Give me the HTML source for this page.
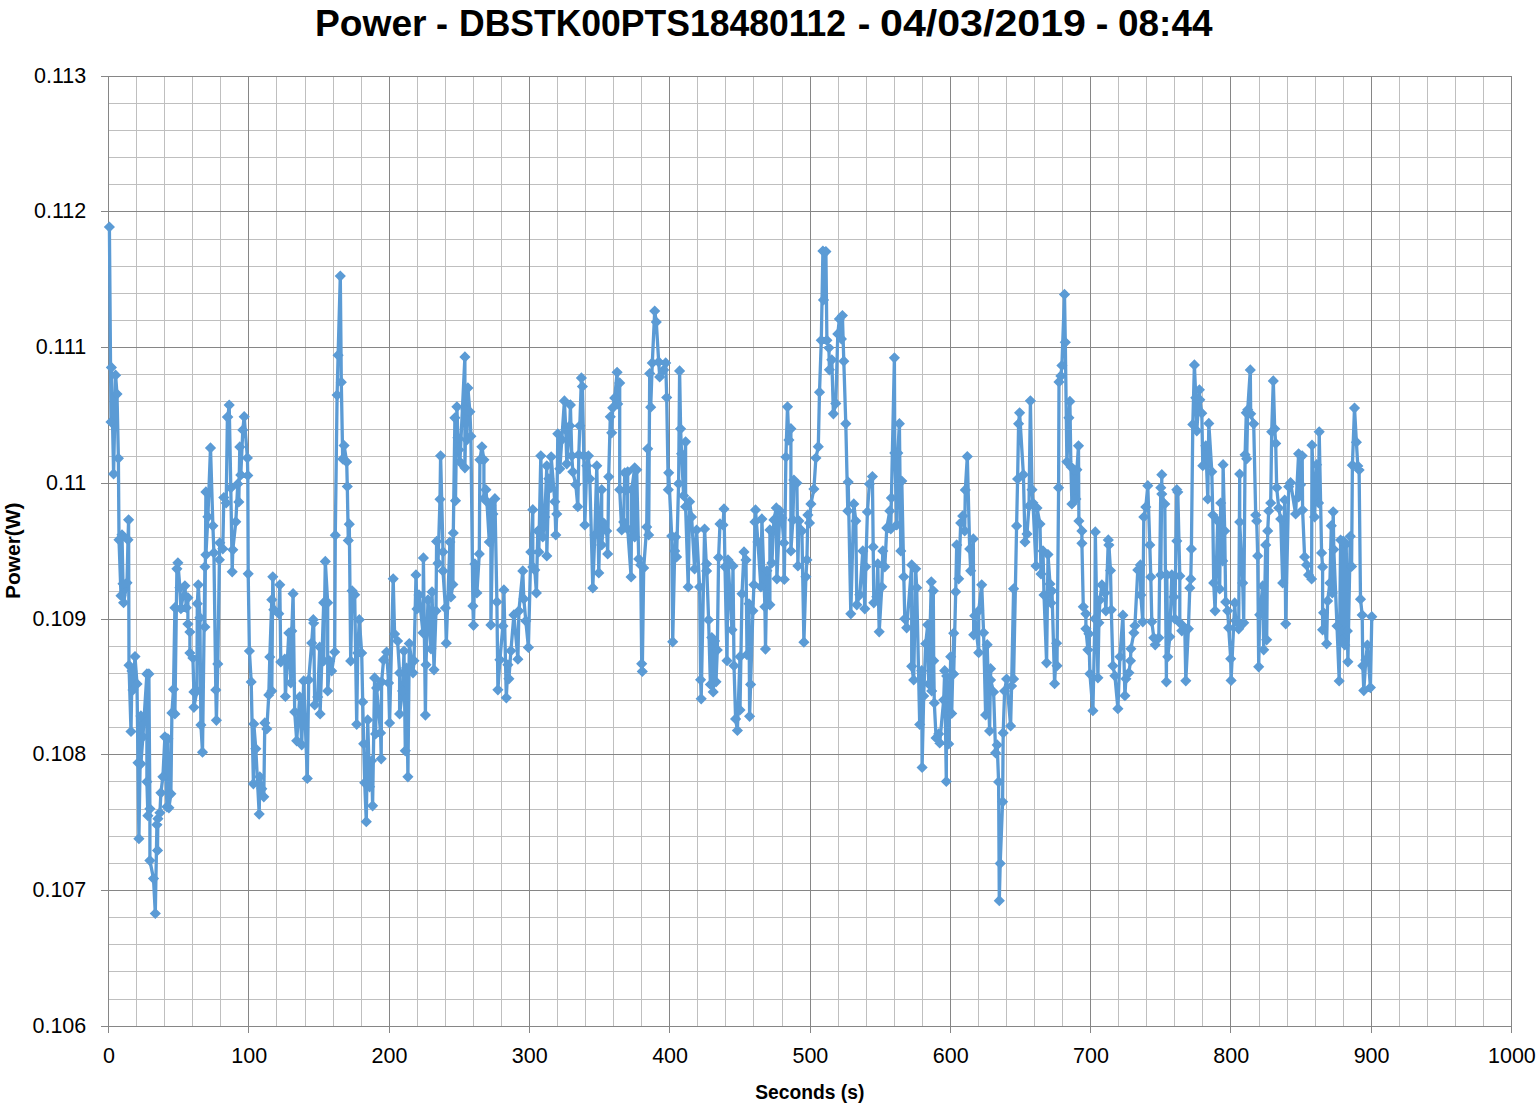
<!DOCTYPE html>
<html lang="en"><head><meta charset="utf-8"><title>Power - DBSTK00PTS18480112</title>
<style>
html,body{margin:0;padding:0;background:#fff;}
body{width:1537px;height:1107px;overflow:hidden;}
svg{display:block;}
text{font-family:"Liberation Sans",sans-serif;fill:#000;}
.t{font-weight:bold;}
</style></head><body>
<svg width="1537" height="1107" viewBox="0 0 1537 1107">
<rect width="1537" height="1107" fill="#fff"/>
<path d="M136.5 75.7V1025.7M164.5 75.7V1025.7M192.5 75.7V1025.7M220.5 75.7V1025.7M276.5 75.7V1025.7M305.5 75.7V1025.7M333.5 75.7V1025.7M361.5 75.7V1025.7M417.5 75.7V1025.7M445.5 75.7V1025.7M473.5 75.7V1025.7M501.5 75.7V1025.7M557.5 75.7V1025.7M585.5 75.7V1025.7M613.5 75.7V1025.7M641.5 75.7V1025.7M697.5 75.7V1025.7M725.5 75.7V1025.7M753.5 75.7V1025.7M782.5 75.7V1025.7M838.5 75.7V1025.7M866.5 75.7V1025.7M894.5 75.7V1025.7M922.5 75.7V1025.7M978.5 75.7V1025.7M1006.5 75.7V1025.7M1034.5 75.7V1025.7M1062.5 75.7V1025.7M1118.5 75.7V1025.7M1146.5 75.7V1025.7M1174.5 75.7V1025.7M1202.5 75.7V1025.7M1259.5 75.7V1025.7M1287.5 75.7V1025.7M1315.5 75.7V1025.7M1343.5 75.7V1025.7M1399.5 75.7V1025.7M1427.5 75.7V1025.7M1455.5 75.7V1025.7M1483.5 75.7V1025.7M108.1 103.5H1511.1M108.1 130.5H1511.1M108.1 157.5H1511.1M108.1 184.5H1511.1M108.1 239.5H1511.1M108.1 266.5H1511.1M108.1 293.5H1511.1M108.1 320.5H1511.1M108.1 374.5H1511.1M108.1 401.5H1511.1M108.1 429.5H1511.1M108.1 456.5H1511.1M108.1 510.5H1511.1M108.1 537.5H1511.1M108.1 564.5H1511.1M108.1 591.5H1511.1M108.1 646.5H1511.1M108.1 673.5H1511.1M108.1 700.5H1511.1M108.1 727.5H1511.1M108.1 781.5H1511.1M108.1 809.5H1511.1M108.1 836.5H1511.1M108.1 863.5H1511.1M108.1 917.5H1511.1M108.1 944.5H1511.1M108.1 971.5H1511.1M108.1 999.5H1511.1" stroke="#bfbfbf" stroke-width="1" fill="none" shape-rendering="crispEdges"/>
<path d="M108.5 75.7V1032.7M248.5 75.7V1032.7M389.5 75.7V1032.7M529.5 75.7V1032.7M669.5 75.7V1032.7M810.5 75.7V1032.7M950.5 75.7V1032.7M1090.5 75.7V1032.7M1230.5 75.7V1032.7M1371.5 75.7V1032.7M1511.5 75.7V1032.7M101.1 76.5H1511.1M101.1 211.5H1511.1M101.1 347.5H1511.1M101.1 483.5H1511.1M101.1 619.5H1511.1M101.1 754.5H1511.1M101.1 890.5H1511.1M101.1 1026.5H1511.1" stroke="#868686" stroke-width="1" fill="none" shape-rendering="crispEdges"/>
<text x="86.3" y="82.6" font-size="21.5" text-anchor="end">0.113</text>
<text x="86.3" y="218.3" font-size="21.5" text-anchor="end">0.112</text>
<text x="86.3" y="354.0" font-size="21.5" text-anchor="end">0.111</text>
<text x="86.3" y="489.7" font-size="21.5" text-anchor="end">0.11</text>
<text x="86.3" y="625.5" font-size="21.5" text-anchor="end">0.109</text>
<text x="86.3" y="761.2" font-size="21.5" text-anchor="end">0.108</text>
<text x="86.3" y="896.9" font-size="21.5" text-anchor="end">0.107</text>
<text x="86.3" y="1032.6" font-size="21.5" text-anchor="end">0.106</text>
<text x="108.9" y="1063.3" font-size="21.5" text-anchor="middle">0</text>
<text x="249.2" y="1063.3" font-size="21.5" text-anchor="middle">100</text>
<text x="389.5" y="1063.3" font-size="21.5" text-anchor="middle">200</text>
<text x="529.8" y="1063.3" font-size="21.5" text-anchor="middle">300</text>
<text x="670.1" y="1063.3" font-size="21.5" text-anchor="middle">400</text>
<text x="810.4" y="1063.3" font-size="21.5" text-anchor="middle">500</text>
<text x="950.7" y="1063.3" font-size="21.5" text-anchor="middle">600</text>
<text x="1091.0" y="1063.3" font-size="21.5" text-anchor="middle">700</text>
<text x="1231.3" y="1063.3" font-size="21.5" text-anchor="middle">800</text>
<text x="1371.6" y="1063.3" font-size="21.5" text-anchor="middle">900</text>
<text x="1511.9" y="1063.3" font-size="21.5" text-anchor="middle">1000</text>
<text class="t" x="315.00" y="36.2" font-size="37" textLength="111.60" lengthAdjust="spacingAndGlyphs">Power</text>
<text class="t" x="436.00" y="36.2" font-size="37" textLength="12.00" lengthAdjust="spacingAndGlyphs">-</text>
<text class="t" x="459.00" y="36.2" font-size="37" textLength="387.00" lengthAdjust="spacingAndGlyphs">DBSTK00PTS18480112</text>
<text class="t" x="857.80" y="36.2" font-size="37" textLength="12.60" lengthAdjust="spacingAndGlyphs">-</text>
<text class="t" x="880.00" y="36.2" font-size="37" textLength="206.00" lengthAdjust="spacingAndGlyphs">04/03/2019</text>
<text class="t" x="1095.80" y="36.2" font-size="37" textLength="12.60" lengthAdjust="spacingAndGlyphs">-</text>
<text class="t" x="1118.00" y="36.2" font-size="37" textLength="94.50" lengthAdjust="spacingAndGlyphs">08:44</text>
<text class="t" x="809.8" y="1098.6" font-size="20" text-anchor="middle" textLength="109" lengthAdjust="spacingAndGlyphs">Seconds (s)</text>
<text class="t" transform="translate(20.2,550.7) rotate(-90)" font-size="20.5" text-anchor="middle" textLength="96.5" lengthAdjust="spacingAndGlyphs">Power(W)</text>
<path d="M109.4 227.0 L111.0 422.0 L111.4 367.4 L113.6 473.9 L115.6 375.2 L117.0 394.1 L118.4 458.3 L119.0 539.8 L121.0 595.7 L122.0 534.8 L123.0 583.8 L123.6 602.7 L127.0 582.8 L128.0 539.8 L128.6 519.8 L129.0 665.3 L131.0 731.5 L132.0 670.9 L133.0 689.9 L135.0 656.6 L137.0 683.9 L138.0 762.8 L138.9 838.7 L140.9 715.9 L140.9 763.8 L142.9 736.8 L146.9 673.9 L146.9 781.8 L147.9 815.7 L148.9 673.9 L149.9 808.8 L149.9 860.6 L153.5 878.6 L155.3 913.5 L156.9 824.7 L157.5 850.4 L157.9 818.7 L159.9 812.8 L160.9 792.8 L162.9 776.8 L164.9 736.8 L166.9 806.8 L167.9 738.8 L168.9 807.8 L170.9 793.8 L171.9 712.9 L173.5 689.3 L174.9 607.7 L174.9 713.9 L176.9 568.8 L177.9 562.8 L179.9 587.8 L180.9 608.7 L184.9 585.8 L186.3 607.7 L187.9 597.7 L187.9 624.0 L189.9 632.0 L189.9 653.0 L192.9 658.0 L193.9 691.9 L193.9 707.3 L196.9 690.9 L197.3 603.7 L198.3 584.8 L199.9 617.7 L200.9 724.9 L202.5 752.2 L204.9 566.8 L204.9 627.0 L205.9 491.9 L205.9 554.8 L207.9 516.8 L210.5 447.9 L212.9 525.8 L213.9 552.8 L215.8 689.9 L216.4 720.3 L217.8 663.9 L219.4 559.8 L219.8 542.8 L222.8 548.8 L223.8 497.5 L226.2 502.9 L227.4 417.1 L227.8 417.0 L229.2 405.1 L230.8 487.9 L232.2 571.8 L232.8 549.8 L235.8 521.8 L237.8 483.9 L238.8 501.9 L239.8 446.9 L240.8 474.9 L242.8 430.0 L244.2 416.7 L247.4 457.9 L247.8 475.5 L248.2 573.8 L249.4 651.0 L251.2 681.9 L253.4 783.8 L253.8 723.9 L255.8 748.8 L259.2 814.1 L259.8 776.8 L261.8 788.8 L263.8 796.8 L264.8 722.9 L266.8 728.9 L268.8 694.9 L269.8 657.0 L271.8 599.7 L271.8 690.9 L272.8 576.8 L273.8 609.7 L278.8 613.7 L279.8 584.8 L280.8 661.9 L284.8 659.0 L285.4 696.5 L288.8 633.0 L290.8 682.9 L291.8 631.0 L293.1 593.7 L294.7 711.9 L296.7 740.8 L299.7 696.9 L301.7 744.8 L303.7 680.9 L307.3 778.4 L308.7 679.9 L311.7 643.0 L313.3 619.7 L313.7 623.0 L314.7 704.9 L317.7 696.9 L319.7 647.0 L320.1 713.9 L323.7 602.7 L323.7 660.9 L325.3 561.4 L327.7 602.7 L327.7 690.9 L329.7 660.9 L331.7 670.9 L334.7 652.0 L335.3 535.2 L337.1 395.1 L338.1 355.2 L340.3 276.1 L341.3 382.2 L342.7 458.9 L344.1 445.5 L346.7 461.9 L347.3 486.5 L348.3 540.4 L349.3 524.2 L350.7 660.9 L352.1 590.8 L354.7 594.7 L356.7 724.3 L357.7 653.0 L359.3 619.7 L361.7 653.0 L362.7 701.9 L363.7 743.8 L364.7 782.8 L366.3 821.7 L367.7 719.9 L369.6 786.8 L371.6 760.8 L372.6 805.8 L374.6 677.9 L375.6 733.9 L376.6 687.9 L380.6 732.9 L381.2 758.8 L381.6 681.9 L383.6 659.9 L386.6 652.0 L388.6 682.9 L389.6 722.9 L393.2 578.8 L394.6 634.0 L397.6 641.0 L399.6 672.9 L399.6 713.9 L402.6 690.9 L404.0 651.0 L405.3 750.8 L406.6 668.0 L407.9 776.8 L409.3 643.5 L413.0 672.8 L414.0 660.8 L416.0 574.9 L417.0 608.9 L419.0 594.9 L423.0 632.8 L423.4 557.9 L425.4 715.1 L426.0 664.8 L428.0 599.9 L431.0 648.8 L432.0 591.9 L434.0 669.8 L436.0 610.9 L436.6 541.4 L438.0 563.3 L440.0 499.3 L440.6 455.8 L443.0 551.9 L443.0 570.9 L445.4 607.9 L446.3 643.2 L449.9 542.0 L450.9 596.9 L452.9 584.5 L453.3 533.0 L454.9 417.8 L455.5 500.7 L456.9 406.8 L457.9 437.8 L458.9 449.8 L459.9 461.8 L464.9 356.9 L464.9 467.8 L465.9 409.8 L466.9 439.8 L467.9 387.9 L469.9 411.8 L470.9 436.2 L472.9 605.9 L473.5 625.3 L474.9 563.9 L476.9 592.9 L479.3 553.9 L479.9 459.8 L481.9 446.8 L483.9 459.8 L483.9 498.7 L485.9 489.7 L486.9 501.7 L489.3 542.0 L490.9 505.7 L490.9 624.9 L492.9 514.0 L494.9 498.7 L496.9 601.9 L497.9 689.8 L499.9 659.8 L502.9 625.9 L503.9 589.9 L506.3 697.8 L507.9 664.8 L508.9 678.8 L510.9 650.8 L513.9 614.9 L517.9 659.2 L518.9 610.9 L522.8 570.9 L523.8 598.9 L525.8 620.9 L528.4 647.4 L530.8 551.9 L532.8 509.7 L532.8 566.9 L534.8 569.9 L536.4 592.9 L537.8 531.0 L538.8 551.9 L540.8 455.8 L542.8 537.0 L544.8 517.0 L546.8 465.8 L546.8 555.9 L548.8 478.8 L550.8 487.7 L551.2 456.8 L554.8 501.7 L555.8 535.0 L556.8 514.0 L557.8 433.8 L559.8 468.8 L561.8 439.8 L564.4 400.9 L565.8 429.8 L566.8 463.8 L569.8 425.8 L570.4 404.9 L571.8 455.8 L572.8 471.8 L575.8 484.7 L577.8 506.7 L578.8 454.8 L579.8 425.8 L581.4 377.9 L582.4 386.5 L583.8 455.8 L584.8 525.0 L586.8 465.8 L588.4 455.8 L589.8 478.8 L592.8 587.9 L594.8 535.0 L596.8 465.8 L598.8 572.9 L599.7 531.0 L601.7 489.7 L601.7 545.0 L603.7 523.0 L606.7 531.0 L607.7 553.9 L608.7 476.8 L610.3 416.8 L611.7 432.8 L612.7 407.8 L614.7 397.9 L617.1 372.3 L617.7 403.9 L619.7 382.9 L619.7 489.7 L621.7 530.0 L623.7 522.0 L624.7 472.8 L625.7 489.7 L627.7 471.8 L627.7 529.0 L631.1 576.9 L631.7 489.7 L634.7 467.8 L634.7 537.0 L636.7 469.8 L638.7 558.9 L640.7 564.9 L641.7 663.8 L642.3 671.4 L643.7 567.9 L646.7 527.0 L647.7 448.8 L648.7 535.0 L649.7 373.5 L650.7 407.2 L652.3 362.9 L654.7 311.0 L656.3 322.0 L658.7 361.9 L659.7 376.9 L663.7 369.9 L665.7 362.9 L666.7 397.5 L668.3 489.7 L668.7 472.8 L671.7 536.0 L672.7 641.8 L674.7 550.9 L675.6 537.0 L676.6 556.9 L678.6 483.7 L679.6 370.9 L680.6 428.8 L681.6 453.8 L683.6 495.7 L685.6 441.8 L685.6 506.7 L688.2 586.9 L689.6 501.7 L691.6 517.0 L694.6 568.9 L696.6 530.0 L699.6 586.9 L700.6 679.8 L701.2 698.8 L704.6 529.0 L706.6 570.9 L706.6 563.9 L708.6 619.9 L710.4 684.5 L711.8 637.5 L713.2 691.9 L714.6 641.0 L716.0 681.8 L717.3 650.0 L718.6 557.5 L720.0 523.9 L723.0 524.9 L724.0 508.9 L725.0 566.8 L727.0 660.7 L728.0 559.9 L732.0 629.8 L733.0 565.9 L734.0 665.7 L735.6 718.9 L737.4 730.5 L740.0 656.7 L740.0 710.0 L742.0 593.8 L744.0 551.9 L746.0 559.9 L747.0 654.7 L749.0 603.8 L749.6 716.3 L750.6 684.4 L752.9 610.8 L753.9 584.8 L754.9 521.9 L755.5 509.9 L757.9 541.9 L760.9 586.8 L761.9 518.9 L764.9 606.8 L765.5 649.1 L766.9 570.8 L769.9 604.8 L769.9 529.9 L771.9 562.9 L773.9 519.9 L776.3 507.9 L776.9 578.8 L779.9 510.9 L781.9 517.9 L783.9 542.9 L784.3 579.4 L785.9 457.0 L787.5 406.8 L788.9 440.1 L790.9 428.7 L790.9 550.9 L792.9 519.9 L793.9 480.0 L796.9 483.0 L797.9 565.9 L798.9 520.9 L801.9 530.9 L803.9 642.2 L805.9 576.8 L806.9 559.9 L807.9 514.9 L809.5 522.9 L810.9 503.9 L813.9 489.0 L815.9 458.0 L818.3 446.7 L819.5 392.2 L821.3 340.3 L822.9 251.0 L823.5 299.9 L825.9 251.6 L826.9 340.3 L828.9 347.8 L829.4 369.8 L831.8 359.8 L833.4 413.8 L835.8 403.4 L837.8 333.9 L839.4 318.9 L841.4 338.9 L842.4 315.5 L843.8 361.2 L845.8 423.7 L847.8 510.9 L848.2 482.0 L850.8 613.8 L853.8 503.9 L855.8 520.9 L856.8 604.8 L859.8 594.8 L862.8 550.9 L864.8 608.8 L865.8 566.8 L867.4 511.9 L869.4 484.0 L872.4 476.6 L873.2 546.9 L873.8 602.8 L876.8 596.8 L877.8 563.9 L879.2 631.8 L881.8 586.8 L882.8 550.9 L884.8 566.8 L886.8 527.9 L889.8 510.9 L890.8 528.9 L891.4 497.9 L894.4 357.8 L894.8 453.0 L896.8 524.9 L897.8 453.0 L899.4 423.7 L900.8 550.9 L901.8 481.0 L903.8 576.8 L904.8 618.8 L906.7 627.8 L911.7 564.9 L911.7 666.3 L913.7 680.0 L915.7 568.8 L916.7 587.8 L919.7 724.5 L921.7 670.7 L922.1 767.5 L923.7 696.0 L925.7 643.7 L927.7 624.8 L928.7 684.0 L931.3 581.8 L931.7 691.0 L933.3 590.8 L933.7 660.7 L934.3 703.0 L936.1 737.9 L938.7 733.9 L939.7 742.9 L943.7 700.0 L944.7 670.7 L946.3 781.5 L946.7 676.0 L948.7 743.9 L950.7 656.7 L951.7 713.5 L953.7 633.2 L953.7 674.0 L955.7 591.8 L956.7 544.9 L958.7 578.8 L960.7 522.9 L962.7 515.9 L964.7 530.9 L965.3 489.9 L967.3 456.6 L969.7 548.9 L970.7 570.8 L973.3 538.9 L973.7 634.8 L974.7 615.8 L978.7 652.7 L978.7 610.8 L981.7 584.8 L983.6 632.8 L985.6 714.9 L987.2 644.7 L989.6 730.9 L990.6 668.7 L990.6 680.0 L993.6 692.0 L995.6 752.9 L997.2 744.9 L998.6 781.9 L999.3 900.7 L1000.2 863.4 L1002.6 801.8 L1003.2 732.9 L1004.6 691.0 L1006.6 679.0 L1010.6 725.9 L1011.6 686.0 L1013.6 588.8 L1013.6 679.0 L1016.6 525.9 L1017.6 479.0 L1018.6 423.7 L1019.6 412.8 L1023.4 474.7 L1025.0 541.9 L1027.0 533.9 L1029.0 506.0 L1030.4 400.8 L1032.0 489.7 L1033.0 503.0 L1036.0 565.9 L1037.0 508.0 L1040.0 524.0 L1041.0 573.9 L1043.0 550.9 L1044.0 594.9 L1046.6 662.8 L1048.0 554.5 L1050.0 583.9 L1051.0 602.9 L1052.0 590.9 L1054.6 683.7 L1056.6 643.2 L1057.0 665.8 L1058.6 487.7 L1059.0 381.9 L1060.9 375.9 L1061.9 365.5 L1064.5 294.4 L1065.3 342.3 L1066.9 461.8 L1068.9 417.8 L1069.9 401.4 L1070.9 466.7 L1071.9 504.0 L1073.9 469.7 L1075.9 499.0 L1076.9 469.7 L1078.5 445.8 L1078.9 521.0 L1081.9 530.9 L1081.9 543.3 L1083.3 606.8 L1085.9 613.8 L1085.9 628.8 L1087.9 649.8 L1088.9 633.8 L1089.9 673.8 L1092.9 710.7 L1094.9 618.8 L1095.3 531.9 L1097.9 677.8 L1098.9 622.8 L1099.9 599.9 L1101.9 584.9 L1104.9 592.9 L1105.9 610.8 L1108.3 539.9 L1108.9 544.9 L1110.5 570.5 L1111.3 609.8 L1112.9 665.8 L1114.9 675.8 L1117.9 708.7 L1119.9 656.8 L1122.9 615.2 L1124.9 695.7 L1125.9 678.8 L1128.9 672.8 L1130.5 660.8 L1130.9 648.8 L1133.9 632.8 L1134.9 625.8 L1137.8 569.9 L1140.4 564.9 L1140.8 594.9 L1142.8 621.8 L1143.8 517.0 L1145.8 507.0 L1147.8 485.7 L1149.8 544.9 L1150.8 576.9 L1151.8 621.8 L1153.8 637.8 L1155.2 644.8 L1158.8 637.8 L1160.8 487.7 L1160.8 574.9 L1161.8 474.7 L1161.8 494.0 L1164.8 504.0 L1166.4 681.8 L1166.8 574.9 L1167.8 656.8 L1169.8 636.8 L1171.8 574.9 L1173.8 596.9 L1174.8 618.8 L1176.8 489.7 L1176.8 540.9 L1177.8 492.0 L1179.8 575.9 L1179.8 622.8 L1181.8 630.8 L1184.8 627.8 L1185.8 680.8 L1188.4 628.8 L1189.8 587.9 L1190.8 578.9 L1191.4 548.9 L1192.8 424.4 L1194.4 364.9 L1195.8 397.8 L1196.8 430.8 L1199.4 389.8 L1199.8 399.8 L1201.8 413.2 L1202.8 465.7 L1205.8 445.8 L1207.8 499.0 L1208.8 423.4 L1211.8 471.7 L1212.8 515.0 L1213.7 582.9 L1215.1 610.8 L1217.7 521.0 L1219.7 588.9 L1220.7 503.0 L1222.7 560.9 L1223.1 464.7 L1224.7 530.9 L1225.7 601.9 L1227.7 610.8 L1228.7 627.8 L1230.7 658.8 L1231.1 680.4 L1234.7 602.9 L1235.7 620.8 L1238.7 628.8 L1239.7 474.1 L1239.7 522.0 L1242.7 582.9 L1243.7 622.8 L1245.1 454.8 L1246.3 412.8 L1246.7 458.8 L1247.7 409.8 L1250.3 369.9 L1250.7 413.8 L1253.7 423.8 L1255.7 515.0 L1256.7 521.0 L1257.7 555.9 L1258.7 666.8 L1259.7 614.8 L1262.7 585.9 L1263.7 649.8 L1265.7 544.9 L1266.7 639.8 L1267.7 530.9 L1268.7 511.0 L1270.7 503.0 L1271.7 431.8 L1273.3 380.9 L1274.7 428.8 L1275.7 443.4 L1276.7 487.7 L1278.7 508.0 L1280.7 519.0 L1282.7 582.9 L1284.7 500.0 L1285.7 623.8 L1288.7 486.7 L1290.6 482.7 L1295.6 514.0 L1298.6 453.8 L1298.6 497.0 L1300.6 484.7 L1302.2 455.8 L1302.6 510.0 L1304.6 556.9 L1306.6 564.9 L1308.6 574.9 L1311.6 578.9 L1312.0 445.2 L1314.6 517.0 L1316.6 464.7 L1318.6 503.0 L1319.2 431.8 L1321.6 552.9 L1322.6 566.9 L1322.6 629.8 L1323.6 612.8 L1326.6 643.8 L1327.6 600.9 L1329.9 583.0 L1331.3 525.7 L1332.3 593.0 L1333.2 511.8 L1333.8 549.5 L1337.0 626.0 L1339.2 681.0 L1340.6 540.0 L1342.0 640.0 L1343.4 541.0 L1344.8 645.0 L1346.2 544.0 L1347.4 631.0 L1347.9 661.8 L1350.3 536.3 L1351.6 566.4 L1352.4 465.2 L1354.5 408.1 L1356.4 442.2 L1357.8 466.0 L1359.1 469.9 L1360.5 599.2 L1362.2 615.1 L1362.8 665.8 L1363.8 690.6 L1365.8 659.9 L1367.4 645.0 L1370.4 687.6 L1371.8 616.7" stroke="#5b9bd5" stroke-width="3.3" fill="none" stroke-linejoin="round" stroke-linecap="round"/>
<path d="M109.4 221.4l5.6 5.6l-5.6 5.6l-5.6 -5.6zM111.0 416.4l5.6 5.6l-5.6 5.6l-5.6 -5.6zM111.4 361.8l5.6 5.6l-5.6 5.6l-5.6 -5.6zM113.6 468.3l5.6 5.6l-5.6 5.6l-5.6 -5.6zM115.6 369.6l5.6 5.6l-5.6 5.6l-5.6 -5.6zM117.0 388.5l5.6 5.6l-5.6 5.6l-5.6 -5.6zM118.4 452.7l5.6 5.6l-5.6 5.6l-5.6 -5.6zM119.0 534.2l5.6 5.6l-5.6 5.6l-5.6 -5.6zM121.0 590.1l5.6 5.6l-5.6 5.6l-5.6 -5.6zM122.0 529.2l5.6 5.6l-5.6 5.6l-5.6 -5.6zM123.0 578.2l5.6 5.6l-5.6 5.6l-5.6 -5.6zM123.6 597.1l5.6 5.6l-5.6 5.6l-5.6 -5.6zM127.0 577.2l5.6 5.6l-5.6 5.6l-5.6 -5.6zM128.0 534.2l5.6 5.6l-5.6 5.6l-5.6 -5.6zM128.6 514.2l5.6 5.6l-5.6 5.6l-5.6 -5.6zM129.0 659.7l5.6 5.6l-5.6 5.6l-5.6 -5.6zM131.0 725.9l5.6 5.6l-5.6 5.6l-5.6 -5.6zM132.0 665.3l5.6 5.6l-5.6 5.6l-5.6 -5.6zM133.0 684.3l5.6 5.6l-5.6 5.6l-5.6 -5.6zM135.0 651.0l5.6 5.6l-5.6 5.6l-5.6 -5.6zM137.0 678.3l5.6 5.6l-5.6 5.6l-5.6 -5.6zM138.0 757.2l5.6 5.6l-5.6 5.6l-5.6 -5.6zM138.9 833.1l5.6 5.6l-5.6 5.6l-5.6 -5.6zM140.9 710.3l5.6 5.6l-5.6 5.6l-5.6 -5.6zM140.9 758.2l5.6 5.6l-5.6 5.6l-5.6 -5.6zM142.9 731.2l5.6 5.6l-5.6 5.6l-5.6 -5.6zM146.9 668.3l5.6 5.6l-5.6 5.6l-5.6 -5.6zM146.9 776.2l5.6 5.6l-5.6 5.6l-5.6 -5.6zM147.9 810.1l5.6 5.6l-5.6 5.6l-5.6 -5.6zM148.9 668.3l5.6 5.6l-5.6 5.6l-5.6 -5.6zM149.9 803.2l5.6 5.6l-5.6 5.6l-5.6 -5.6zM149.9 855.0l5.6 5.6l-5.6 5.6l-5.6 -5.6zM153.5 873.0l5.6 5.6l-5.6 5.6l-5.6 -5.6zM155.3 907.9l5.6 5.6l-5.6 5.6l-5.6 -5.6zM156.9 819.1l5.6 5.6l-5.6 5.6l-5.6 -5.6zM157.5 844.8l5.6 5.6l-5.6 5.6l-5.6 -5.6zM157.9 813.1l5.6 5.6l-5.6 5.6l-5.6 -5.6zM159.9 807.2l5.6 5.6l-5.6 5.6l-5.6 -5.6zM160.9 787.2l5.6 5.6l-5.6 5.6l-5.6 -5.6zM162.9 771.2l5.6 5.6l-5.6 5.6l-5.6 -5.6zM164.9 731.2l5.6 5.6l-5.6 5.6l-5.6 -5.6zM166.9 801.2l5.6 5.6l-5.6 5.6l-5.6 -5.6zM167.9 733.2l5.6 5.6l-5.6 5.6l-5.6 -5.6zM168.9 802.2l5.6 5.6l-5.6 5.6l-5.6 -5.6zM170.9 788.2l5.6 5.6l-5.6 5.6l-5.6 -5.6zM171.9 707.3l5.6 5.6l-5.6 5.6l-5.6 -5.6zM173.5 683.7l5.6 5.6l-5.6 5.6l-5.6 -5.6zM174.9 602.1l5.6 5.6l-5.6 5.6l-5.6 -5.6zM174.9 708.3l5.6 5.6l-5.6 5.6l-5.6 -5.6zM176.9 563.2l5.6 5.6l-5.6 5.6l-5.6 -5.6zM177.9 557.2l5.6 5.6l-5.6 5.6l-5.6 -5.6zM179.9 582.2l5.6 5.6l-5.6 5.6l-5.6 -5.6zM180.9 603.1l5.6 5.6l-5.6 5.6l-5.6 -5.6zM184.9 580.2l5.6 5.6l-5.6 5.6l-5.6 -5.6zM186.3 602.1l5.6 5.6l-5.6 5.6l-5.6 -5.6zM187.9 592.1l5.6 5.6l-5.6 5.6l-5.6 -5.6zM187.9 618.4l5.6 5.6l-5.6 5.6l-5.6 -5.6zM189.9 626.4l5.6 5.6l-5.6 5.6l-5.6 -5.6zM189.9 647.4l5.6 5.6l-5.6 5.6l-5.6 -5.6zM192.9 652.4l5.6 5.6l-5.6 5.6l-5.6 -5.6zM193.9 686.3l5.6 5.6l-5.6 5.6l-5.6 -5.6zM193.9 701.7l5.6 5.6l-5.6 5.6l-5.6 -5.6zM196.9 685.3l5.6 5.6l-5.6 5.6l-5.6 -5.6zM197.3 598.1l5.6 5.6l-5.6 5.6l-5.6 -5.6zM198.3 579.2l5.6 5.6l-5.6 5.6l-5.6 -5.6zM199.9 612.1l5.6 5.6l-5.6 5.6l-5.6 -5.6zM200.9 719.3l5.6 5.6l-5.6 5.6l-5.6 -5.6zM202.5 746.6l5.6 5.6l-5.6 5.6l-5.6 -5.6zM204.9 561.2l5.6 5.6l-5.6 5.6l-5.6 -5.6zM204.9 621.4l5.6 5.6l-5.6 5.6l-5.6 -5.6zM205.9 486.3l5.6 5.6l-5.6 5.6l-5.6 -5.6zM205.9 549.2l5.6 5.6l-5.6 5.6l-5.6 -5.6zM207.9 511.2l5.6 5.6l-5.6 5.6l-5.6 -5.6zM210.5 442.3l5.6 5.6l-5.6 5.6l-5.6 -5.6zM212.9 520.2l5.6 5.6l-5.6 5.6l-5.6 -5.6zM213.9 547.2l5.6 5.6l-5.6 5.6l-5.6 -5.6zM215.8 684.3l5.6 5.6l-5.6 5.6l-5.6 -5.6zM216.4 714.7l5.6 5.6l-5.6 5.6l-5.6 -5.6zM217.8 658.3l5.6 5.6l-5.6 5.6l-5.6 -5.6zM219.4 554.2l5.6 5.6l-5.6 5.6l-5.6 -5.6zM219.8 537.2l5.6 5.6l-5.6 5.6l-5.6 -5.6zM222.8 543.2l5.6 5.6l-5.6 5.6l-5.6 -5.6zM223.8 491.9l5.6 5.6l-5.6 5.6l-5.6 -5.6zM226.2 497.3l5.6 5.6l-5.6 5.6l-5.6 -5.6zM227.4 411.5l5.6 5.6l-5.6 5.6l-5.6 -5.6zM227.8 411.4l5.6 5.6l-5.6 5.6l-5.6 -5.6zM229.2 399.5l5.6 5.6l-5.6 5.6l-5.6 -5.6zM230.8 482.3l5.6 5.6l-5.6 5.6l-5.6 -5.6zM232.2 566.2l5.6 5.6l-5.6 5.6l-5.6 -5.6zM232.8 544.2l5.6 5.6l-5.6 5.6l-5.6 -5.6zM235.8 516.2l5.6 5.6l-5.6 5.6l-5.6 -5.6zM237.8 478.3l5.6 5.6l-5.6 5.6l-5.6 -5.6zM238.8 496.3l5.6 5.6l-5.6 5.6l-5.6 -5.6zM239.8 441.3l5.6 5.6l-5.6 5.6l-5.6 -5.6zM240.8 469.3l5.6 5.6l-5.6 5.6l-5.6 -5.6zM242.8 424.4l5.6 5.6l-5.6 5.6l-5.6 -5.6zM244.2 411.1l5.6 5.6l-5.6 5.6l-5.6 -5.6zM247.4 452.3l5.6 5.6l-5.6 5.6l-5.6 -5.6zM247.8 469.9l5.6 5.6l-5.6 5.6l-5.6 -5.6zM248.2 568.2l5.6 5.6l-5.6 5.6l-5.6 -5.6zM249.4 645.4l5.6 5.6l-5.6 5.6l-5.6 -5.6zM251.2 676.3l5.6 5.6l-5.6 5.6l-5.6 -5.6zM253.4 778.2l5.6 5.6l-5.6 5.6l-5.6 -5.6zM253.8 718.3l5.6 5.6l-5.6 5.6l-5.6 -5.6zM255.8 743.2l5.6 5.6l-5.6 5.6l-5.6 -5.6zM259.2 808.5l5.6 5.6l-5.6 5.6l-5.6 -5.6zM259.8 771.2l5.6 5.6l-5.6 5.6l-5.6 -5.6zM261.8 783.2l5.6 5.6l-5.6 5.6l-5.6 -5.6zM263.8 791.2l5.6 5.6l-5.6 5.6l-5.6 -5.6zM264.8 717.3l5.6 5.6l-5.6 5.6l-5.6 -5.6zM266.8 723.3l5.6 5.6l-5.6 5.6l-5.6 -5.6zM268.8 689.3l5.6 5.6l-5.6 5.6l-5.6 -5.6zM269.8 651.4l5.6 5.6l-5.6 5.6l-5.6 -5.6zM271.8 594.1l5.6 5.6l-5.6 5.6l-5.6 -5.6zM271.8 685.3l5.6 5.6l-5.6 5.6l-5.6 -5.6zM272.8 571.2l5.6 5.6l-5.6 5.6l-5.6 -5.6zM273.8 604.1l5.6 5.6l-5.6 5.6l-5.6 -5.6zM278.8 608.1l5.6 5.6l-5.6 5.6l-5.6 -5.6zM279.8 579.2l5.6 5.6l-5.6 5.6l-5.6 -5.6zM280.8 656.3l5.6 5.6l-5.6 5.6l-5.6 -5.6zM284.8 653.4l5.6 5.6l-5.6 5.6l-5.6 -5.6zM285.4 690.9l5.6 5.6l-5.6 5.6l-5.6 -5.6zM288.8 627.4l5.6 5.6l-5.6 5.6l-5.6 -5.6zM290.8 677.3l5.6 5.6l-5.6 5.6l-5.6 -5.6zM291.8 625.4l5.6 5.6l-5.6 5.6l-5.6 -5.6zM293.1 588.1l5.6 5.6l-5.6 5.6l-5.6 -5.6zM294.7 706.3l5.6 5.6l-5.6 5.6l-5.6 -5.6zM296.7 735.2l5.6 5.6l-5.6 5.6l-5.6 -5.6zM299.7 691.3l5.6 5.6l-5.6 5.6l-5.6 -5.6zM301.7 739.2l5.6 5.6l-5.6 5.6l-5.6 -5.6zM303.7 675.3l5.6 5.6l-5.6 5.6l-5.6 -5.6zM307.3 772.8l5.6 5.6l-5.6 5.6l-5.6 -5.6zM308.7 674.3l5.6 5.6l-5.6 5.6l-5.6 -5.6zM311.7 637.4l5.6 5.6l-5.6 5.6l-5.6 -5.6zM313.3 614.1l5.6 5.6l-5.6 5.6l-5.6 -5.6zM313.7 617.4l5.6 5.6l-5.6 5.6l-5.6 -5.6zM314.7 699.3l5.6 5.6l-5.6 5.6l-5.6 -5.6zM317.7 691.3l5.6 5.6l-5.6 5.6l-5.6 -5.6zM319.7 641.4l5.6 5.6l-5.6 5.6l-5.6 -5.6zM320.1 708.3l5.6 5.6l-5.6 5.6l-5.6 -5.6zM323.7 597.1l5.6 5.6l-5.6 5.6l-5.6 -5.6zM323.7 655.3l5.6 5.6l-5.6 5.6l-5.6 -5.6zM325.3 555.8l5.6 5.6l-5.6 5.6l-5.6 -5.6zM327.7 597.1l5.6 5.6l-5.6 5.6l-5.6 -5.6zM327.7 685.3l5.6 5.6l-5.6 5.6l-5.6 -5.6zM329.7 655.3l5.6 5.6l-5.6 5.6l-5.6 -5.6zM331.7 665.3l5.6 5.6l-5.6 5.6l-5.6 -5.6zM334.7 646.4l5.6 5.6l-5.6 5.6l-5.6 -5.6zM335.3 529.6l5.6 5.6l-5.6 5.6l-5.6 -5.6zM337.1 389.5l5.6 5.6l-5.6 5.6l-5.6 -5.6zM338.1 349.6l5.6 5.6l-5.6 5.6l-5.6 -5.6zM340.3 270.5l5.6 5.6l-5.6 5.6l-5.6 -5.6zM341.3 376.6l5.6 5.6l-5.6 5.6l-5.6 -5.6zM342.7 453.3l5.6 5.6l-5.6 5.6l-5.6 -5.6zM344.1 439.9l5.6 5.6l-5.6 5.6l-5.6 -5.6zM346.7 456.3l5.6 5.6l-5.6 5.6l-5.6 -5.6zM347.3 480.9l5.6 5.6l-5.6 5.6l-5.6 -5.6zM348.3 534.8l5.6 5.6l-5.6 5.6l-5.6 -5.6zM349.3 518.6l5.6 5.6l-5.6 5.6l-5.6 -5.6zM350.7 655.3l5.6 5.6l-5.6 5.6l-5.6 -5.6zM352.1 585.2l5.6 5.6l-5.6 5.6l-5.6 -5.6zM354.7 589.1l5.6 5.6l-5.6 5.6l-5.6 -5.6zM356.7 718.7l5.6 5.6l-5.6 5.6l-5.6 -5.6zM357.7 647.4l5.6 5.6l-5.6 5.6l-5.6 -5.6zM359.3 614.1l5.6 5.6l-5.6 5.6l-5.6 -5.6zM361.7 647.4l5.6 5.6l-5.6 5.6l-5.6 -5.6zM362.7 696.3l5.6 5.6l-5.6 5.6l-5.6 -5.6zM363.7 738.2l5.6 5.6l-5.6 5.6l-5.6 -5.6zM364.7 777.2l5.6 5.6l-5.6 5.6l-5.6 -5.6zM366.3 816.1l5.6 5.6l-5.6 5.6l-5.6 -5.6zM367.7 714.3l5.6 5.6l-5.6 5.6l-5.6 -5.6zM369.6 781.2l5.6 5.6l-5.6 5.6l-5.6 -5.6zM371.6 755.2l5.6 5.6l-5.6 5.6l-5.6 -5.6zM372.6 800.2l5.6 5.6l-5.6 5.6l-5.6 -5.6zM374.6 672.3l5.6 5.6l-5.6 5.6l-5.6 -5.6zM375.6 728.3l5.6 5.6l-5.6 5.6l-5.6 -5.6zM376.6 682.3l5.6 5.6l-5.6 5.6l-5.6 -5.6zM380.6 727.3l5.6 5.6l-5.6 5.6l-5.6 -5.6zM381.2 753.2l5.6 5.6l-5.6 5.6l-5.6 -5.6zM381.6 676.3l5.6 5.6l-5.6 5.6l-5.6 -5.6zM383.6 654.3l5.6 5.6l-5.6 5.6l-5.6 -5.6zM386.6 646.4l5.6 5.6l-5.6 5.6l-5.6 -5.6zM388.6 677.3l5.6 5.6l-5.6 5.6l-5.6 -5.6zM389.6 717.3l5.6 5.6l-5.6 5.6l-5.6 -5.6zM393.2 573.2l5.6 5.6l-5.6 5.6l-5.6 -5.6zM394.6 628.4l5.6 5.6l-5.6 5.6l-5.6 -5.6zM397.6 635.4l5.6 5.6l-5.6 5.6l-5.6 -5.6zM399.6 667.3l5.6 5.6l-5.6 5.6l-5.6 -5.6zM399.6 708.3l5.6 5.6l-5.6 5.6l-5.6 -5.6zM402.6 685.3l5.6 5.6l-5.6 5.6l-5.6 -5.6zM404.0 645.4l5.6 5.6l-5.6 5.6l-5.6 -5.6zM405.3 745.2l5.6 5.6l-5.6 5.6l-5.6 -5.6zM406.6 662.4l5.6 5.6l-5.6 5.6l-5.6 -5.6zM407.9 771.2l5.6 5.6l-5.6 5.6l-5.6 -5.6zM409.3 637.9l5.6 5.6l-5.6 5.6l-5.6 -5.6zM413.0 667.2l5.6 5.6l-5.6 5.6l-5.6 -5.6zM414.0 655.2l5.6 5.6l-5.6 5.6l-5.6 -5.6zM416.0 569.3l5.6 5.6l-5.6 5.6l-5.6 -5.6zM417.0 603.3l5.6 5.6l-5.6 5.6l-5.6 -5.6zM419.0 589.3l5.6 5.6l-5.6 5.6l-5.6 -5.6zM423.0 627.2l5.6 5.6l-5.6 5.6l-5.6 -5.6zM423.4 552.3l5.6 5.6l-5.6 5.6l-5.6 -5.6zM425.4 709.5l5.6 5.6l-5.6 5.6l-5.6 -5.6zM426.0 659.2l5.6 5.6l-5.6 5.6l-5.6 -5.6zM428.0 594.3l5.6 5.6l-5.6 5.6l-5.6 -5.6zM431.0 643.2l5.6 5.6l-5.6 5.6l-5.6 -5.6zM432.0 586.3l5.6 5.6l-5.6 5.6l-5.6 -5.6zM434.0 664.2l5.6 5.6l-5.6 5.6l-5.6 -5.6zM436.0 605.3l5.6 5.6l-5.6 5.6l-5.6 -5.6zM436.6 535.8l5.6 5.6l-5.6 5.6l-5.6 -5.6zM438.0 557.7l5.6 5.6l-5.6 5.6l-5.6 -5.6zM440.0 493.7l5.6 5.6l-5.6 5.6l-5.6 -5.6zM440.6 450.2l5.6 5.6l-5.6 5.6l-5.6 -5.6zM443.0 546.3l5.6 5.6l-5.6 5.6l-5.6 -5.6zM443.0 565.3l5.6 5.6l-5.6 5.6l-5.6 -5.6zM445.4 602.3l5.6 5.6l-5.6 5.6l-5.6 -5.6zM446.3 637.6l5.6 5.6l-5.6 5.6l-5.6 -5.6zM449.9 536.4l5.6 5.6l-5.6 5.6l-5.6 -5.6zM450.9 591.3l5.6 5.6l-5.6 5.6l-5.6 -5.6zM452.9 578.9l5.6 5.6l-5.6 5.6l-5.6 -5.6zM453.3 527.4l5.6 5.6l-5.6 5.6l-5.6 -5.6zM454.9 412.2l5.6 5.6l-5.6 5.6l-5.6 -5.6zM455.5 495.1l5.6 5.6l-5.6 5.6l-5.6 -5.6zM456.9 401.2l5.6 5.6l-5.6 5.6l-5.6 -5.6zM457.9 432.2l5.6 5.6l-5.6 5.6l-5.6 -5.6zM458.9 444.2l5.6 5.6l-5.6 5.6l-5.6 -5.6zM459.9 456.2l5.6 5.6l-5.6 5.6l-5.6 -5.6zM464.9 351.3l5.6 5.6l-5.6 5.6l-5.6 -5.6zM464.9 462.2l5.6 5.6l-5.6 5.6l-5.6 -5.6zM465.9 404.2l5.6 5.6l-5.6 5.6l-5.6 -5.6zM466.9 434.2l5.6 5.6l-5.6 5.6l-5.6 -5.6zM467.9 382.3l5.6 5.6l-5.6 5.6l-5.6 -5.6zM469.9 406.2l5.6 5.6l-5.6 5.6l-5.6 -5.6zM470.9 430.6l5.6 5.6l-5.6 5.6l-5.6 -5.6zM472.9 600.3l5.6 5.6l-5.6 5.6l-5.6 -5.6zM473.5 619.7l5.6 5.6l-5.6 5.6l-5.6 -5.6zM474.9 558.3l5.6 5.6l-5.6 5.6l-5.6 -5.6zM476.9 587.3l5.6 5.6l-5.6 5.6l-5.6 -5.6zM479.3 548.3l5.6 5.6l-5.6 5.6l-5.6 -5.6zM479.9 454.2l5.6 5.6l-5.6 5.6l-5.6 -5.6zM481.9 441.2l5.6 5.6l-5.6 5.6l-5.6 -5.6zM483.9 454.2l5.6 5.6l-5.6 5.6l-5.6 -5.6zM483.9 493.1l5.6 5.6l-5.6 5.6l-5.6 -5.6zM485.9 484.1l5.6 5.6l-5.6 5.6l-5.6 -5.6zM486.9 496.1l5.6 5.6l-5.6 5.6l-5.6 -5.6zM489.3 536.4l5.6 5.6l-5.6 5.6l-5.6 -5.6zM490.9 500.1l5.6 5.6l-5.6 5.6l-5.6 -5.6zM490.9 619.3l5.6 5.6l-5.6 5.6l-5.6 -5.6zM492.9 508.4l5.6 5.6l-5.6 5.6l-5.6 -5.6zM494.9 493.1l5.6 5.6l-5.6 5.6l-5.6 -5.6zM496.9 596.3l5.6 5.6l-5.6 5.6l-5.6 -5.6zM497.9 684.2l5.6 5.6l-5.6 5.6l-5.6 -5.6zM499.9 654.2l5.6 5.6l-5.6 5.6l-5.6 -5.6zM502.9 620.3l5.6 5.6l-5.6 5.6l-5.6 -5.6zM503.9 584.3l5.6 5.6l-5.6 5.6l-5.6 -5.6zM506.3 692.2l5.6 5.6l-5.6 5.6l-5.6 -5.6zM507.9 659.2l5.6 5.6l-5.6 5.6l-5.6 -5.6zM508.9 673.2l5.6 5.6l-5.6 5.6l-5.6 -5.6zM510.9 645.2l5.6 5.6l-5.6 5.6l-5.6 -5.6zM513.9 609.3l5.6 5.6l-5.6 5.6l-5.6 -5.6zM517.9 653.6l5.6 5.6l-5.6 5.6l-5.6 -5.6zM518.9 605.3l5.6 5.6l-5.6 5.6l-5.6 -5.6zM522.8 565.3l5.6 5.6l-5.6 5.6l-5.6 -5.6zM523.8 593.3l5.6 5.6l-5.6 5.6l-5.6 -5.6zM525.8 615.3l5.6 5.6l-5.6 5.6l-5.6 -5.6zM528.4 641.8l5.6 5.6l-5.6 5.6l-5.6 -5.6zM530.8 546.3l5.6 5.6l-5.6 5.6l-5.6 -5.6zM532.8 504.1l5.6 5.6l-5.6 5.6l-5.6 -5.6zM532.8 561.3l5.6 5.6l-5.6 5.6l-5.6 -5.6zM534.8 564.3l5.6 5.6l-5.6 5.6l-5.6 -5.6zM536.4 587.3l5.6 5.6l-5.6 5.6l-5.6 -5.6zM537.8 525.4l5.6 5.6l-5.6 5.6l-5.6 -5.6zM538.8 546.3l5.6 5.6l-5.6 5.6l-5.6 -5.6zM540.8 450.2l5.6 5.6l-5.6 5.6l-5.6 -5.6zM542.8 531.4l5.6 5.6l-5.6 5.6l-5.6 -5.6zM544.8 511.4l5.6 5.6l-5.6 5.6l-5.6 -5.6zM546.8 460.2l5.6 5.6l-5.6 5.6l-5.6 -5.6zM546.8 550.3l5.6 5.6l-5.6 5.6l-5.6 -5.6zM548.8 473.2l5.6 5.6l-5.6 5.6l-5.6 -5.6zM550.8 482.1l5.6 5.6l-5.6 5.6l-5.6 -5.6zM551.2 451.2l5.6 5.6l-5.6 5.6l-5.6 -5.6zM554.8 496.1l5.6 5.6l-5.6 5.6l-5.6 -5.6zM555.8 529.4l5.6 5.6l-5.6 5.6l-5.6 -5.6zM556.8 508.4l5.6 5.6l-5.6 5.6l-5.6 -5.6zM557.8 428.2l5.6 5.6l-5.6 5.6l-5.6 -5.6zM559.8 463.2l5.6 5.6l-5.6 5.6l-5.6 -5.6zM561.8 434.2l5.6 5.6l-5.6 5.6l-5.6 -5.6zM564.4 395.3l5.6 5.6l-5.6 5.6l-5.6 -5.6zM565.8 424.2l5.6 5.6l-5.6 5.6l-5.6 -5.6zM566.8 458.2l5.6 5.6l-5.6 5.6l-5.6 -5.6zM569.8 420.2l5.6 5.6l-5.6 5.6l-5.6 -5.6zM570.4 399.3l5.6 5.6l-5.6 5.6l-5.6 -5.6zM571.8 450.2l5.6 5.6l-5.6 5.6l-5.6 -5.6zM572.8 466.2l5.6 5.6l-5.6 5.6l-5.6 -5.6zM575.8 479.1l5.6 5.6l-5.6 5.6l-5.6 -5.6zM577.8 501.1l5.6 5.6l-5.6 5.6l-5.6 -5.6zM578.8 449.2l5.6 5.6l-5.6 5.6l-5.6 -5.6zM579.8 420.2l5.6 5.6l-5.6 5.6l-5.6 -5.6zM581.4 372.3l5.6 5.6l-5.6 5.6l-5.6 -5.6zM582.4 380.9l5.6 5.6l-5.6 5.6l-5.6 -5.6zM583.8 450.2l5.6 5.6l-5.6 5.6l-5.6 -5.6zM584.8 519.4l5.6 5.6l-5.6 5.6l-5.6 -5.6zM586.8 460.2l5.6 5.6l-5.6 5.6l-5.6 -5.6zM588.4 450.2l5.6 5.6l-5.6 5.6l-5.6 -5.6zM589.8 473.2l5.6 5.6l-5.6 5.6l-5.6 -5.6zM592.8 582.3l5.6 5.6l-5.6 5.6l-5.6 -5.6zM594.8 529.4l5.6 5.6l-5.6 5.6l-5.6 -5.6zM596.8 460.2l5.6 5.6l-5.6 5.6l-5.6 -5.6zM598.8 567.3l5.6 5.6l-5.6 5.6l-5.6 -5.6zM599.7 525.4l5.6 5.6l-5.6 5.6l-5.6 -5.6zM601.7 484.1l5.6 5.6l-5.6 5.6l-5.6 -5.6zM601.7 539.4l5.6 5.6l-5.6 5.6l-5.6 -5.6zM603.7 517.4l5.6 5.6l-5.6 5.6l-5.6 -5.6zM606.7 525.4l5.6 5.6l-5.6 5.6l-5.6 -5.6zM607.7 548.3l5.6 5.6l-5.6 5.6l-5.6 -5.6zM608.7 471.2l5.6 5.6l-5.6 5.6l-5.6 -5.6zM610.3 411.2l5.6 5.6l-5.6 5.6l-5.6 -5.6zM611.7 427.2l5.6 5.6l-5.6 5.6l-5.6 -5.6zM612.7 402.2l5.6 5.6l-5.6 5.6l-5.6 -5.6zM614.7 392.3l5.6 5.6l-5.6 5.6l-5.6 -5.6zM617.1 366.7l5.6 5.6l-5.6 5.6l-5.6 -5.6zM617.7 398.3l5.6 5.6l-5.6 5.6l-5.6 -5.6zM619.7 377.3l5.6 5.6l-5.6 5.6l-5.6 -5.6zM619.7 484.1l5.6 5.6l-5.6 5.6l-5.6 -5.6zM621.7 524.4l5.6 5.6l-5.6 5.6l-5.6 -5.6zM623.7 516.4l5.6 5.6l-5.6 5.6l-5.6 -5.6zM624.7 467.2l5.6 5.6l-5.6 5.6l-5.6 -5.6zM625.7 484.1l5.6 5.6l-5.6 5.6l-5.6 -5.6zM627.7 466.2l5.6 5.6l-5.6 5.6l-5.6 -5.6zM627.7 523.4l5.6 5.6l-5.6 5.6l-5.6 -5.6zM631.1 571.3l5.6 5.6l-5.6 5.6l-5.6 -5.6zM631.7 484.1l5.6 5.6l-5.6 5.6l-5.6 -5.6zM634.7 462.2l5.6 5.6l-5.6 5.6l-5.6 -5.6zM634.7 531.4l5.6 5.6l-5.6 5.6l-5.6 -5.6zM636.7 464.2l5.6 5.6l-5.6 5.6l-5.6 -5.6zM638.7 553.3l5.6 5.6l-5.6 5.6l-5.6 -5.6zM640.7 559.3l5.6 5.6l-5.6 5.6l-5.6 -5.6zM641.7 658.2l5.6 5.6l-5.6 5.6l-5.6 -5.6zM642.3 665.8l5.6 5.6l-5.6 5.6l-5.6 -5.6zM643.7 562.3l5.6 5.6l-5.6 5.6l-5.6 -5.6zM646.7 521.4l5.6 5.6l-5.6 5.6l-5.6 -5.6zM647.7 443.2l5.6 5.6l-5.6 5.6l-5.6 -5.6zM648.7 529.4l5.6 5.6l-5.6 5.6l-5.6 -5.6zM649.7 367.9l5.6 5.6l-5.6 5.6l-5.6 -5.6zM650.7 401.6l5.6 5.6l-5.6 5.6l-5.6 -5.6zM652.3 357.3l5.6 5.6l-5.6 5.6l-5.6 -5.6zM654.7 305.4l5.6 5.6l-5.6 5.6l-5.6 -5.6zM656.3 316.4l5.6 5.6l-5.6 5.6l-5.6 -5.6zM658.7 356.3l5.6 5.6l-5.6 5.6l-5.6 -5.6zM659.7 371.3l5.6 5.6l-5.6 5.6l-5.6 -5.6zM663.7 364.3l5.6 5.6l-5.6 5.6l-5.6 -5.6zM665.7 357.3l5.6 5.6l-5.6 5.6l-5.6 -5.6zM666.7 391.9l5.6 5.6l-5.6 5.6l-5.6 -5.6zM668.3 484.1l5.6 5.6l-5.6 5.6l-5.6 -5.6zM668.7 467.2l5.6 5.6l-5.6 5.6l-5.6 -5.6zM671.7 530.4l5.6 5.6l-5.6 5.6l-5.6 -5.6zM672.7 636.2l5.6 5.6l-5.6 5.6l-5.6 -5.6zM674.7 545.3l5.6 5.6l-5.6 5.6l-5.6 -5.6zM675.6 531.4l5.6 5.6l-5.6 5.6l-5.6 -5.6zM676.6 551.3l5.6 5.6l-5.6 5.6l-5.6 -5.6zM678.6 478.1l5.6 5.6l-5.6 5.6l-5.6 -5.6zM679.6 365.3l5.6 5.6l-5.6 5.6l-5.6 -5.6zM680.6 423.2l5.6 5.6l-5.6 5.6l-5.6 -5.6zM681.6 448.2l5.6 5.6l-5.6 5.6l-5.6 -5.6zM683.6 490.1l5.6 5.6l-5.6 5.6l-5.6 -5.6zM685.6 436.2l5.6 5.6l-5.6 5.6l-5.6 -5.6zM685.6 501.1l5.6 5.6l-5.6 5.6l-5.6 -5.6zM688.2 581.3l5.6 5.6l-5.6 5.6l-5.6 -5.6zM689.6 496.1l5.6 5.6l-5.6 5.6l-5.6 -5.6zM691.6 511.4l5.6 5.6l-5.6 5.6l-5.6 -5.6zM694.6 563.3l5.6 5.6l-5.6 5.6l-5.6 -5.6zM696.6 524.4l5.6 5.6l-5.6 5.6l-5.6 -5.6zM699.6 581.3l5.6 5.6l-5.6 5.6l-5.6 -5.6zM700.6 674.2l5.6 5.6l-5.6 5.6l-5.6 -5.6zM701.2 693.2l5.6 5.6l-5.6 5.6l-5.6 -5.6zM704.6 523.4l5.6 5.6l-5.6 5.6l-5.6 -5.6zM706.6 565.3l5.6 5.6l-5.6 5.6l-5.6 -5.6zM706.6 558.3l5.6 5.6l-5.6 5.6l-5.6 -5.6zM708.6 614.3l5.6 5.6l-5.6 5.6l-5.6 -5.6zM710.4 678.9l5.6 5.6l-5.6 5.6l-5.6 -5.6zM711.8 631.9l5.6 5.6l-5.6 5.6l-5.6 -5.6zM713.2 686.3l5.6 5.6l-5.6 5.6l-5.6 -5.6zM714.6 635.4l5.6 5.6l-5.6 5.6l-5.6 -5.6zM716.0 676.2l5.6 5.6l-5.6 5.6l-5.6 -5.6zM717.3 644.4l5.6 5.6l-5.6 5.6l-5.6 -5.6zM718.6 551.9l5.6 5.6l-5.6 5.6l-5.6 -5.6zM720.0 518.3l5.6 5.6l-5.6 5.6l-5.6 -5.6zM723.0 519.3l5.6 5.6l-5.6 5.6l-5.6 -5.6zM724.0 503.3l5.6 5.6l-5.6 5.6l-5.6 -5.6zM725.0 561.2l5.6 5.6l-5.6 5.6l-5.6 -5.6zM727.0 655.1l5.6 5.6l-5.6 5.6l-5.6 -5.6zM728.0 554.3l5.6 5.6l-5.6 5.6l-5.6 -5.6zM732.0 624.2l5.6 5.6l-5.6 5.6l-5.6 -5.6zM733.0 560.3l5.6 5.6l-5.6 5.6l-5.6 -5.6zM734.0 660.1l5.6 5.6l-5.6 5.6l-5.6 -5.6zM735.6 713.3l5.6 5.6l-5.6 5.6l-5.6 -5.6zM737.4 724.9l5.6 5.6l-5.6 5.6l-5.6 -5.6zM740.0 651.1l5.6 5.6l-5.6 5.6l-5.6 -5.6zM740.0 704.4l5.6 5.6l-5.6 5.6l-5.6 -5.6zM742.0 588.2l5.6 5.6l-5.6 5.6l-5.6 -5.6zM744.0 546.3l5.6 5.6l-5.6 5.6l-5.6 -5.6zM746.0 554.3l5.6 5.6l-5.6 5.6l-5.6 -5.6zM747.0 649.1l5.6 5.6l-5.6 5.6l-5.6 -5.6zM749.0 598.2l5.6 5.6l-5.6 5.6l-5.6 -5.6zM749.6 710.7l5.6 5.6l-5.6 5.6l-5.6 -5.6zM750.6 678.8l5.6 5.6l-5.6 5.6l-5.6 -5.6zM752.9 605.2l5.6 5.6l-5.6 5.6l-5.6 -5.6zM753.9 579.2l5.6 5.6l-5.6 5.6l-5.6 -5.6zM754.9 516.3l5.6 5.6l-5.6 5.6l-5.6 -5.6zM755.5 504.3l5.6 5.6l-5.6 5.6l-5.6 -5.6zM757.9 536.3l5.6 5.6l-5.6 5.6l-5.6 -5.6zM760.9 581.2l5.6 5.6l-5.6 5.6l-5.6 -5.6zM761.9 513.3l5.6 5.6l-5.6 5.6l-5.6 -5.6zM764.9 601.2l5.6 5.6l-5.6 5.6l-5.6 -5.6zM765.5 643.5l5.6 5.6l-5.6 5.6l-5.6 -5.6zM766.9 565.2l5.6 5.6l-5.6 5.6l-5.6 -5.6zM769.9 599.2l5.6 5.6l-5.6 5.6l-5.6 -5.6zM769.9 524.3l5.6 5.6l-5.6 5.6l-5.6 -5.6zM771.9 557.3l5.6 5.6l-5.6 5.6l-5.6 -5.6zM773.9 514.3l5.6 5.6l-5.6 5.6l-5.6 -5.6zM776.3 502.3l5.6 5.6l-5.6 5.6l-5.6 -5.6zM776.9 573.2l5.6 5.6l-5.6 5.6l-5.6 -5.6zM779.9 505.3l5.6 5.6l-5.6 5.6l-5.6 -5.6zM781.9 512.3l5.6 5.6l-5.6 5.6l-5.6 -5.6zM783.9 537.3l5.6 5.6l-5.6 5.6l-5.6 -5.6zM784.3 573.8l5.6 5.6l-5.6 5.6l-5.6 -5.6zM785.9 451.4l5.6 5.6l-5.6 5.6l-5.6 -5.6zM787.5 401.2l5.6 5.6l-5.6 5.6l-5.6 -5.6zM788.9 434.5l5.6 5.6l-5.6 5.6l-5.6 -5.6zM790.9 423.1l5.6 5.6l-5.6 5.6l-5.6 -5.6zM790.9 545.3l5.6 5.6l-5.6 5.6l-5.6 -5.6zM792.9 514.3l5.6 5.6l-5.6 5.6l-5.6 -5.6zM793.9 474.4l5.6 5.6l-5.6 5.6l-5.6 -5.6zM796.9 477.4l5.6 5.6l-5.6 5.6l-5.6 -5.6zM797.9 560.3l5.6 5.6l-5.6 5.6l-5.6 -5.6zM798.9 515.3l5.6 5.6l-5.6 5.6l-5.6 -5.6zM801.9 525.3l5.6 5.6l-5.6 5.6l-5.6 -5.6zM803.9 636.6l5.6 5.6l-5.6 5.6l-5.6 -5.6zM805.9 571.2l5.6 5.6l-5.6 5.6l-5.6 -5.6zM806.9 554.3l5.6 5.6l-5.6 5.6l-5.6 -5.6zM807.9 509.3l5.6 5.6l-5.6 5.6l-5.6 -5.6zM809.5 517.3l5.6 5.6l-5.6 5.6l-5.6 -5.6zM810.9 498.3l5.6 5.6l-5.6 5.6l-5.6 -5.6zM813.9 483.4l5.6 5.6l-5.6 5.6l-5.6 -5.6zM815.9 452.4l5.6 5.6l-5.6 5.6l-5.6 -5.6zM818.3 441.1l5.6 5.6l-5.6 5.6l-5.6 -5.6zM819.5 386.6l5.6 5.6l-5.6 5.6l-5.6 -5.6zM821.3 334.7l5.6 5.6l-5.6 5.6l-5.6 -5.6zM822.9 245.4l5.6 5.6l-5.6 5.6l-5.6 -5.6zM823.5 294.3l5.6 5.6l-5.6 5.6l-5.6 -5.6zM825.9 246.0l5.6 5.6l-5.6 5.6l-5.6 -5.6zM826.9 334.7l5.6 5.6l-5.6 5.6l-5.6 -5.6zM828.9 342.2l5.6 5.6l-5.6 5.6l-5.6 -5.6zM829.4 364.2l5.6 5.6l-5.6 5.6l-5.6 -5.6zM831.8 354.2l5.6 5.6l-5.6 5.6l-5.6 -5.6zM833.4 408.2l5.6 5.6l-5.6 5.6l-5.6 -5.6zM835.8 397.8l5.6 5.6l-5.6 5.6l-5.6 -5.6zM837.8 328.3l5.6 5.6l-5.6 5.6l-5.6 -5.6zM839.4 313.3l5.6 5.6l-5.6 5.6l-5.6 -5.6zM841.4 333.3l5.6 5.6l-5.6 5.6l-5.6 -5.6zM842.4 309.9l5.6 5.6l-5.6 5.6l-5.6 -5.6zM843.8 355.6l5.6 5.6l-5.6 5.6l-5.6 -5.6zM845.8 418.1l5.6 5.6l-5.6 5.6l-5.6 -5.6zM847.8 505.3l5.6 5.6l-5.6 5.6l-5.6 -5.6zM848.2 476.4l5.6 5.6l-5.6 5.6l-5.6 -5.6zM850.8 608.2l5.6 5.6l-5.6 5.6l-5.6 -5.6zM853.8 498.3l5.6 5.6l-5.6 5.6l-5.6 -5.6zM855.8 515.3l5.6 5.6l-5.6 5.6l-5.6 -5.6zM856.8 599.2l5.6 5.6l-5.6 5.6l-5.6 -5.6zM859.8 589.2l5.6 5.6l-5.6 5.6l-5.6 -5.6zM862.8 545.3l5.6 5.6l-5.6 5.6l-5.6 -5.6zM864.8 603.2l5.6 5.6l-5.6 5.6l-5.6 -5.6zM865.8 561.2l5.6 5.6l-5.6 5.6l-5.6 -5.6zM867.4 506.3l5.6 5.6l-5.6 5.6l-5.6 -5.6zM869.4 478.4l5.6 5.6l-5.6 5.6l-5.6 -5.6zM872.4 471.0l5.6 5.6l-5.6 5.6l-5.6 -5.6zM873.2 541.3l5.6 5.6l-5.6 5.6l-5.6 -5.6zM873.8 597.2l5.6 5.6l-5.6 5.6l-5.6 -5.6zM876.8 591.2l5.6 5.6l-5.6 5.6l-5.6 -5.6zM877.8 558.3l5.6 5.6l-5.6 5.6l-5.6 -5.6zM879.2 626.2l5.6 5.6l-5.6 5.6l-5.6 -5.6zM881.8 581.2l5.6 5.6l-5.6 5.6l-5.6 -5.6zM882.8 545.3l5.6 5.6l-5.6 5.6l-5.6 -5.6zM884.8 561.2l5.6 5.6l-5.6 5.6l-5.6 -5.6zM886.8 522.3l5.6 5.6l-5.6 5.6l-5.6 -5.6zM889.8 505.3l5.6 5.6l-5.6 5.6l-5.6 -5.6zM890.8 523.3l5.6 5.6l-5.6 5.6l-5.6 -5.6zM891.4 492.3l5.6 5.6l-5.6 5.6l-5.6 -5.6zM894.4 352.2l5.6 5.6l-5.6 5.6l-5.6 -5.6zM894.8 447.4l5.6 5.6l-5.6 5.6l-5.6 -5.6zM896.8 519.3l5.6 5.6l-5.6 5.6l-5.6 -5.6zM897.8 447.4l5.6 5.6l-5.6 5.6l-5.6 -5.6zM899.4 418.1l5.6 5.6l-5.6 5.6l-5.6 -5.6zM900.8 545.3l5.6 5.6l-5.6 5.6l-5.6 -5.6zM901.8 475.4l5.6 5.6l-5.6 5.6l-5.6 -5.6zM903.8 571.2l5.6 5.6l-5.6 5.6l-5.6 -5.6zM904.8 613.2l5.6 5.6l-5.6 5.6l-5.6 -5.6zM906.7 622.2l5.6 5.6l-5.6 5.6l-5.6 -5.6zM911.7 559.3l5.6 5.6l-5.6 5.6l-5.6 -5.6zM911.7 660.7l5.6 5.6l-5.6 5.6l-5.6 -5.6zM913.7 674.4l5.6 5.6l-5.6 5.6l-5.6 -5.6zM915.7 563.2l5.6 5.6l-5.6 5.6l-5.6 -5.6zM916.7 582.2l5.6 5.6l-5.6 5.6l-5.6 -5.6zM919.7 718.9l5.6 5.6l-5.6 5.6l-5.6 -5.6zM921.7 665.1l5.6 5.6l-5.6 5.6l-5.6 -5.6zM922.1 761.9l5.6 5.6l-5.6 5.6l-5.6 -5.6zM923.7 690.4l5.6 5.6l-5.6 5.6l-5.6 -5.6zM925.7 638.1l5.6 5.6l-5.6 5.6l-5.6 -5.6zM927.7 619.2l5.6 5.6l-5.6 5.6l-5.6 -5.6zM928.7 678.4l5.6 5.6l-5.6 5.6l-5.6 -5.6zM931.3 576.2l5.6 5.6l-5.6 5.6l-5.6 -5.6zM931.7 685.4l5.6 5.6l-5.6 5.6l-5.6 -5.6zM933.3 585.2l5.6 5.6l-5.6 5.6l-5.6 -5.6zM933.7 655.1l5.6 5.6l-5.6 5.6l-5.6 -5.6zM934.3 697.4l5.6 5.6l-5.6 5.6l-5.6 -5.6zM936.1 732.3l5.6 5.6l-5.6 5.6l-5.6 -5.6zM938.7 728.3l5.6 5.6l-5.6 5.6l-5.6 -5.6zM939.7 737.3l5.6 5.6l-5.6 5.6l-5.6 -5.6zM943.7 694.4l5.6 5.6l-5.6 5.6l-5.6 -5.6zM944.7 665.1l5.6 5.6l-5.6 5.6l-5.6 -5.6zM946.3 775.9l5.6 5.6l-5.6 5.6l-5.6 -5.6zM946.7 670.4l5.6 5.6l-5.6 5.6l-5.6 -5.6zM948.7 738.3l5.6 5.6l-5.6 5.6l-5.6 -5.6zM950.7 651.1l5.6 5.6l-5.6 5.6l-5.6 -5.6zM951.7 707.9l5.6 5.6l-5.6 5.6l-5.6 -5.6zM953.7 627.6l5.6 5.6l-5.6 5.6l-5.6 -5.6zM953.7 668.4l5.6 5.6l-5.6 5.6l-5.6 -5.6zM955.7 586.2l5.6 5.6l-5.6 5.6l-5.6 -5.6zM956.7 539.3l5.6 5.6l-5.6 5.6l-5.6 -5.6zM958.7 573.2l5.6 5.6l-5.6 5.6l-5.6 -5.6zM960.7 517.3l5.6 5.6l-5.6 5.6l-5.6 -5.6zM962.7 510.3l5.6 5.6l-5.6 5.6l-5.6 -5.6zM964.7 525.3l5.6 5.6l-5.6 5.6l-5.6 -5.6zM965.3 484.3l5.6 5.6l-5.6 5.6l-5.6 -5.6zM967.3 451.0l5.6 5.6l-5.6 5.6l-5.6 -5.6zM969.7 543.3l5.6 5.6l-5.6 5.6l-5.6 -5.6zM970.7 565.2l5.6 5.6l-5.6 5.6l-5.6 -5.6zM973.3 533.3l5.6 5.6l-5.6 5.6l-5.6 -5.6zM973.7 629.2l5.6 5.6l-5.6 5.6l-5.6 -5.6zM974.7 610.2l5.6 5.6l-5.6 5.6l-5.6 -5.6zM978.7 647.1l5.6 5.6l-5.6 5.6l-5.6 -5.6zM978.7 605.2l5.6 5.6l-5.6 5.6l-5.6 -5.6zM981.7 579.2l5.6 5.6l-5.6 5.6l-5.6 -5.6zM983.6 627.2l5.6 5.6l-5.6 5.6l-5.6 -5.6zM985.6 709.3l5.6 5.6l-5.6 5.6l-5.6 -5.6zM987.2 639.1l5.6 5.6l-5.6 5.6l-5.6 -5.6zM989.6 725.3l5.6 5.6l-5.6 5.6l-5.6 -5.6zM990.6 663.1l5.6 5.6l-5.6 5.6l-5.6 -5.6zM990.6 674.4l5.6 5.6l-5.6 5.6l-5.6 -5.6zM993.6 686.4l5.6 5.6l-5.6 5.6l-5.6 -5.6zM995.6 747.3l5.6 5.6l-5.6 5.6l-5.6 -5.6zM997.2 739.3l5.6 5.6l-5.6 5.6l-5.6 -5.6zM998.6 776.3l5.6 5.6l-5.6 5.6l-5.6 -5.6zM999.3 895.1l5.6 5.6l-5.6 5.6l-5.6 -5.6zM1000.2 857.8l5.6 5.6l-5.6 5.6l-5.6 -5.6zM1002.6 796.2l5.6 5.6l-5.6 5.6l-5.6 -5.6zM1003.2 727.3l5.6 5.6l-5.6 5.6l-5.6 -5.6zM1004.6 685.4l5.6 5.6l-5.6 5.6l-5.6 -5.6zM1006.6 673.4l5.6 5.6l-5.6 5.6l-5.6 -5.6zM1010.6 720.3l5.6 5.6l-5.6 5.6l-5.6 -5.6zM1011.6 680.4l5.6 5.6l-5.6 5.6l-5.6 -5.6zM1013.6 583.2l5.6 5.6l-5.6 5.6l-5.6 -5.6zM1013.6 673.4l5.6 5.6l-5.6 5.6l-5.6 -5.6zM1016.6 520.3l5.6 5.6l-5.6 5.6l-5.6 -5.6zM1017.6 473.4l5.6 5.6l-5.6 5.6l-5.6 -5.6zM1018.6 418.1l5.6 5.6l-5.6 5.6l-5.6 -5.6zM1019.6 407.2l5.6 5.6l-5.6 5.6l-5.6 -5.6zM1023.4 469.1l5.6 5.6l-5.6 5.6l-5.6 -5.6zM1025.0 536.3l5.6 5.6l-5.6 5.6l-5.6 -5.6zM1027.0 528.3l5.6 5.6l-5.6 5.6l-5.6 -5.6zM1029.0 500.4l5.6 5.6l-5.6 5.6l-5.6 -5.6zM1030.4 395.2l5.6 5.6l-5.6 5.6l-5.6 -5.6zM1032.0 484.1l5.6 5.6l-5.6 5.6l-5.6 -5.6zM1033.0 497.4l5.6 5.6l-5.6 5.6l-5.6 -5.6zM1036.0 560.3l5.6 5.6l-5.6 5.6l-5.6 -5.6zM1037.0 502.4l5.6 5.6l-5.6 5.6l-5.6 -5.6zM1040.0 518.4l5.6 5.6l-5.6 5.6l-5.6 -5.6zM1041.0 568.3l5.6 5.6l-5.6 5.6l-5.6 -5.6zM1043.0 545.3l5.6 5.6l-5.6 5.6l-5.6 -5.6zM1044.0 589.3l5.6 5.6l-5.6 5.6l-5.6 -5.6zM1046.6 657.2l5.6 5.6l-5.6 5.6l-5.6 -5.6zM1048.0 548.9l5.6 5.6l-5.6 5.6l-5.6 -5.6zM1050.0 578.3l5.6 5.6l-5.6 5.6l-5.6 -5.6zM1051.0 597.3l5.6 5.6l-5.6 5.6l-5.6 -5.6zM1052.0 585.3l5.6 5.6l-5.6 5.6l-5.6 -5.6zM1054.6 678.1l5.6 5.6l-5.6 5.6l-5.6 -5.6zM1056.6 637.6l5.6 5.6l-5.6 5.6l-5.6 -5.6zM1057.0 660.2l5.6 5.6l-5.6 5.6l-5.6 -5.6zM1058.6 482.1l5.6 5.6l-5.6 5.6l-5.6 -5.6zM1059.0 376.3l5.6 5.6l-5.6 5.6l-5.6 -5.6zM1060.9 370.3l5.6 5.6l-5.6 5.6l-5.6 -5.6zM1061.9 359.9l5.6 5.6l-5.6 5.6l-5.6 -5.6zM1064.5 288.8l5.6 5.6l-5.6 5.6l-5.6 -5.6zM1065.3 336.7l5.6 5.6l-5.6 5.6l-5.6 -5.6zM1066.9 456.2l5.6 5.6l-5.6 5.6l-5.6 -5.6zM1068.9 412.2l5.6 5.6l-5.6 5.6l-5.6 -5.6zM1069.9 395.8l5.6 5.6l-5.6 5.6l-5.6 -5.6zM1070.9 461.1l5.6 5.6l-5.6 5.6l-5.6 -5.6zM1071.9 498.4l5.6 5.6l-5.6 5.6l-5.6 -5.6zM1073.9 464.1l5.6 5.6l-5.6 5.6l-5.6 -5.6zM1075.9 493.4l5.6 5.6l-5.6 5.6l-5.6 -5.6zM1076.9 464.1l5.6 5.6l-5.6 5.6l-5.6 -5.6zM1078.5 440.2l5.6 5.6l-5.6 5.6l-5.6 -5.6zM1078.9 515.4l5.6 5.6l-5.6 5.6l-5.6 -5.6zM1081.9 525.3l5.6 5.6l-5.6 5.6l-5.6 -5.6zM1081.9 537.7l5.6 5.6l-5.6 5.6l-5.6 -5.6zM1083.3 601.2l5.6 5.6l-5.6 5.6l-5.6 -5.6zM1085.9 608.2l5.6 5.6l-5.6 5.6l-5.6 -5.6zM1085.9 623.2l5.6 5.6l-5.6 5.6l-5.6 -5.6zM1087.9 644.2l5.6 5.6l-5.6 5.6l-5.6 -5.6zM1088.9 628.2l5.6 5.6l-5.6 5.6l-5.6 -5.6zM1089.9 668.2l5.6 5.6l-5.6 5.6l-5.6 -5.6zM1092.9 705.1l5.6 5.6l-5.6 5.6l-5.6 -5.6zM1094.9 613.2l5.6 5.6l-5.6 5.6l-5.6 -5.6zM1095.3 526.3l5.6 5.6l-5.6 5.6l-5.6 -5.6zM1097.9 672.2l5.6 5.6l-5.6 5.6l-5.6 -5.6zM1098.9 617.2l5.6 5.6l-5.6 5.6l-5.6 -5.6zM1099.9 594.3l5.6 5.6l-5.6 5.6l-5.6 -5.6zM1101.9 579.3l5.6 5.6l-5.6 5.6l-5.6 -5.6zM1104.9 587.3l5.6 5.6l-5.6 5.6l-5.6 -5.6zM1105.9 605.2l5.6 5.6l-5.6 5.6l-5.6 -5.6zM1108.3 534.3l5.6 5.6l-5.6 5.6l-5.6 -5.6zM1108.9 539.3l5.6 5.6l-5.6 5.6l-5.6 -5.6zM1110.5 564.9l5.6 5.6l-5.6 5.6l-5.6 -5.6zM1111.3 604.2l5.6 5.6l-5.6 5.6l-5.6 -5.6zM1112.9 660.2l5.6 5.6l-5.6 5.6l-5.6 -5.6zM1114.9 670.2l5.6 5.6l-5.6 5.6l-5.6 -5.6zM1117.9 703.1l5.6 5.6l-5.6 5.6l-5.6 -5.6zM1119.9 651.2l5.6 5.6l-5.6 5.6l-5.6 -5.6zM1122.9 609.6l5.6 5.6l-5.6 5.6l-5.6 -5.6zM1124.9 690.1l5.6 5.6l-5.6 5.6l-5.6 -5.6zM1125.9 673.2l5.6 5.6l-5.6 5.6l-5.6 -5.6zM1128.9 667.2l5.6 5.6l-5.6 5.6l-5.6 -5.6zM1130.5 655.2l5.6 5.6l-5.6 5.6l-5.6 -5.6zM1130.9 643.2l5.6 5.6l-5.6 5.6l-5.6 -5.6zM1133.9 627.2l5.6 5.6l-5.6 5.6l-5.6 -5.6zM1134.9 620.2l5.6 5.6l-5.6 5.6l-5.6 -5.6zM1137.8 564.3l5.6 5.6l-5.6 5.6l-5.6 -5.6zM1140.4 559.3l5.6 5.6l-5.6 5.6l-5.6 -5.6zM1140.8 589.3l5.6 5.6l-5.6 5.6l-5.6 -5.6zM1142.8 616.2l5.6 5.6l-5.6 5.6l-5.6 -5.6zM1143.8 511.4l5.6 5.6l-5.6 5.6l-5.6 -5.6zM1145.8 501.4l5.6 5.6l-5.6 5.6l-5.6 -5.6zM1147.8 480.1l5.6 5.6l-5.6 5.6l-5.6 -5.6zM1149.8 539.3l5.6 5.6l-5.6 5.6l-5.6 -5.6zM1150.8 571.3l5.6 5.6l-5.6 5.6l-5.6 -5.6zM1151.8 616.2l5.6 5.6l-5.6 5.6l-5.6 -5.6zM1153.8 632.2l5.6 5.6l-5.6 5.6l-5.6 -5.6zM1155.2 639.2l5.6 5.6l-5.6 5.6l-5.6 -5.6zM1158.8 632.2l5.6 5.6l-5.6 5.6l-5.6 -5.6zM1160.8 482.1l5.6 5.6l-5.6 5.6l-5.6 -5.6zM1160.8 569.3l5.6 5.6l-5.6 5.6l-5.6 -5.6zM1161.8 469.1l5.6 5.6l-5.6 5.6l-5.6 -5.6zM1161.8 488.4l5.6 5.6l-5.6 5.6l-5.6 -5.6zM1164.8 498.4l5.6 5.6l-5.6 5.6l-5.6 -5.6zM1166.4 676.2l5.6 5.6l-5.6 5.6l-5.6 -5.6zM1166.8 569.3l5.6 5.6l-5.6 5.6l-5.6 -5.6zM1167.8 651.2l5.6 5.6l-5.6 5.6l-5.6 -5.6zM1169.8 631.2l5.6 5.6l-5.6 5.6l-5.6 -5.6zM1171.8 569.3l5.6 5.6l-5.6 5.6l-5.6 -5.6zM1173.8 591.3l5.6 5.6l-5.6 5.6l-5.6 -5.6zM1174.8 613.2l5.6 5.6l-5.6 5.6l-5.6 -5.6zM1176.8 484.1l5.6 5.6l-5.6 5.6l-5.6 -5.6zM1176.8 535.3l5.6 5.6l-5.6 5.6l-5.6 -5.6zM1177.8 486.4l5.6 5.6l-5.6 5.6l-5.6 -5.6zM1179.8 570.3l5.6 5.6l-5.6 5.6l-5.6 -5.6zM1179.8 617.2l5.6 5.6l-5.6 5.6l-5.6 -5.6zM1181.8 625.2l5.6 5.6l-5.6 5.6l-5.6 -5.6zM1184.8 622.2l5.6 5.6l-5.6 5.6l-5.6 -5.6zM1185.8 675.2l5.6 5.6l-5.6 5.6l-5.6 -5.6zM1188.4 623.2l5.6 5.6l-5.6 5.6l-5.6 -5.6zM1189.8 582.3l5.6 5.6l-5.6 5.6l-5.6 -5.6zM1190.8 573.3l5.6 5.6l-5.6 5.6l-5.6 -5.6zM1191.4 543.3l5.6 5.6l-5.6 5.6l-5.6 -5.6zM1192.8 418.8l5.6 5.6l-5.6 5.6l-5.6 -5.6zM1194.4 359.3l5.6 5.6l-5.6 5.6l-5.6 -5.6zM1195.8 392.2l5.6 5.6l-5.6 5.6l-5.6 -5.6zM1196.8 425.2l5.6 5.6l-5.6 5.6l-5.6 -5.6zM1199.4 384.2l5.6 5.6l-5.6 5.6l-5.6 -5.6zM1199.8 394.2l5.6 5.6l-5.6 5.6l-5.6 -5.6zM1201.8 407.6l5.6 5.6l-5.6 5.6l-5.6 -5.6zM1202.8 460.1l5.6 5.6l-5.6 5.6l-5.6 -5.6zM1205.8 440.2l5.6 5.6l-5.6 5.6l-5.6 -5.6zM1207.8 493.4l5.6 5.6l-5.6 5.6l-5.6 -5.6zM1208.8 417.8l5.6 5.6l-5.6 5.6l-5.6 -5.6zM1211.8 466.1l5.6 5.6l-5.6 5.6l-5.6 -5.6zM1212.8 509.4l5.6 5.6l-5.6 5.6l-5.6 -5.6zM1213.7 577.3l5.6 5.6l-5.6 5.6l-5.6 -5.6zM1215.1 605.2l5.6 5.6l-5.6 5.6l-5.6 -5.6zM1217.7 515.4l5.6 5.6l-5.6 5.6l-5.6 -5.6zM1219.7 583.3l5.6 5.6l-5.6 5.6l-5.6 -5.6zM1220.7 497.4l5.6 5.6l-5.6 5.6l-5.6 -5.6zM1222.7 555.3l5.6 5.6l-5.6 5.6l-5.6 -5.6zM1223.1 459.1l5.6 5.6l-5.6 5.6l-5.6 -5.6zM1224.7 525.3l5.6 5.6l-5.6 5.6l-5.6 -5.6zM1225.7 596.3l5.6 5.6l-5.6 5.6l-5.6 -5.6zM1227.7 605.2l5.6 5.6l-5.6 5.6l-5.6 -5.6zM1228.7 622.2l5.6 5.6l-5.6 5.6l-5.6 -5.6zM1230.7 653.2l5.6 5.6l-5.6 5.6l-5.6 -5.6zM1231.1 674.8l5.6 5.6l-5.6 5.6l-5.6 -5.6zM1234.7 597.3l5.6 5.6l-5.6 5.6l-5.6 -5.6zM1235.7 615.2l5.6 5.6l-5.6 5.6l-5.6 -5.6zM1238.7 623.2l5.6 5.6l-5.6 5.6l-5.6 -5.6zM1239.7 468.5l5.6 5.6l-5.6 5.6l-5.6 -5.6zM1239.7 516.4l5.6 5.6l-5.6 5.6l-5.6 -5.6zM1242.7 577.3l5.6 5.6l-5.6 5.6l-5.6 -5.6zM1243.7 617.2l5.6 5.6l-5.6 5.6l-5.6 -5.6zM1245.1 449.2l5.6 5.6l-5.6 5.6l-5.6 -5.6zM1246.3 407.2l5.6 5.6l-5.6 5.6l-5.6 -5.6zM1246.7 453.2l5.6 5.6l-5.6 5.6l-5.6 -5.6zM1247.7 404.2l5.6 5.6l-5.6 5.6l-5.6 -5.6zM1250.3 364.3l5.6 5.6l-5.6 5.6l-5.6 -5.6zM1250.7 408.2l5.6 5.6l-5.6 5.6l-5.6 -5.6zM1253.7 418.2l5.6 5.6l-5.6 5.6l-5.6 -5.6zM1255.7 509.4l5.6 5.6l-5.6 5.6l-5.6 -5.6zM1256.7 515.4l5.6 5.6l-5.6 5.6l-5.6 -5.6zM1257.7 550.3l5.6 5.6l-5.6 5.6l-5.6 -5.6zM1258.7 661.2l5.6 5.6l-5.6 5.6l-5.6 -5.6zM1259.7 609.2l5.6 5.6l-5.6 5.6l-5.6 -5.6zM1262.7 580.3l5.6 5.6l-5.6 5.6l-5.6 -5.6zM1263.7 644.2l5.6 5.6l-5.6 5.6l-5.6 -5.6zM1265.7 539.3l5.6 5.6l-5.6 5.6l-5.6 -5.6zM1266.7 634.2l5.6 5.6l-5.6 5.6l-5.6 -5.6zM1267.7 525.3l5.6 5.6l-5.6 5.6l-5.6 -5.6zM1268.7 505.4l5.6 5.6l-5.6 5.6l-5.6 -5.6zM1270.7 497.4l5.6 5.6l-5.6 5.6l-5.6 -5.6zM1271.7 426.2l5.6 5.6l-5.6 5.6l-5.6 -5.6zM1273.3 375.3l5.6 5.6l-5.6 5.6l-5.6 -5.6zM1274.7 423.2l5.6 5.6l-5.6 5.6l-5.6 -5.6zM1275.7 437.8l5.6 5.6l-5.6 5.6l-5.6 -5.6zM1276.7 482.1l5.6 5.6l-5.6 5.6l-5.6 -5.6zM1278.7 502.4l5.6 5.6l-5.6 5.6l-5.6 -5.6zM1280.7 513.4l5.6 5.6l-5.6 5.6l-5.6 -5.6zM1282.7 577.3l5.6 5.6l-5.6 5.6l-5.6 -5.6zM1284.7 494.4l5.6 5.6l-5.6 5.6l-5.6 -5.6zM1285.7 618.2l5.6 5.6l-5.6 5.6l-5.6 -5.6zM1288.7 481.1l5.6 5.6l-5.6 5.6l-5.6 -5.6zM1290.6 477.1l5.6 5.6l-5.6 5.6l-5.6 -5.6zM1295.6 508.4l5.6 5.6l-5.6 5.6l-5.6 -5.6zM1298.6 448.2l5.6 5.6l-5.6 5.6l-5.6 -5.6zM1298.6 491.4l5.6 5.6l-5.6 5.6l-5.6 -5.6zM1300.6 479.1l5.6 5.6l-5.6 5.6l-5.6 -5.6zM1302.2 450.2l5.6 5.6l-5.6 5.6l-5.6 -5.6zM1302.6 504.4l5.6 5.6l-5.6 5.6l-5.6 -5.6zM1304.6 551.3l5.6 5.6l-5.6 5.6l-5.6 -5.6zM1306.6 559.3l5.6 5.6l-5.6 5.6l-5.6 -5.6zM1308.6 569.3l5.6 5.6l-5.6 5.6l-5.6 -5.6zM1311.6 573.3l5.6 5.6l-5.6 5.6l-5.6 -5.6zM1312.0 439.6l5.6 5.6l-5.6 5.6l-5.6 -5.6zM1314.6 511.4l5.6 5.6l-5.6 5.6l-5.6 -5.6zM1316.6 459.1l5.6 5.6l-5.6 5.6l-5.6 -5.6zM1318.6 497.4l5.6 5.6l-5.6 5.6l-5.6 -5.6zM1319.2 426.2l5.6 5.6l-5.6 5.6l-5.6 -5.6zM1321.6 547.3l5.6 5.6l-5.6 5.6l-5.6 -5.6zM1322.6 561.3l5.6 5.6l-5.6 5.6l-5.6 -5.6zM1322.6 624.2l5.6 5.6l-5.6 5.6l-5.6 -5.6zM1323.6 607.2l5.6 5.6l-5.6 5.6l-5.6 -5.6zM1326.6 638.2l5.6 5.6l-5.6 5.6l-5.6 -5.6zM1327.6 595.3l5.6 5.6l-5.6 5.6l-5.6 -5.6zM1329.9 577.4l5.6 5.6l-5.6 5.6l-5.6 -5.6zM1331.3 520.1l5.6 5.6l-5.6 5.6l-5.6 -5.6zM1332.3 587.4l5.6 5.6l-5.6 5.6l-5.6 -5.6zM1333.2 506.2l5.6 5.6l-5.6 5.6l-5.6 -5.6zM1333.8 543.9l5.6 5.6l-5.6 5.6l-5.6 -5.6zM1337.0 620.4l5.6 5.6l-5.6 5.6l-5.6 -5.6zM1339.2 675.4l5.6 5.6l-5.6 5.6l-5.6 -5.6zM1340.6 534.4l5.6 5.6l-5.6 5.6l-5.6 -5.6zM1342.0 634.4l5.6 5.6l-5.6 5.6l-5.6 -5.6zM1343.4 535.4l5.6 5.6l-5.6 5.6l-5.6 -5.6zM1344.8 639.4l5.6 5.6l-5.6 5.6l-5.6 -5.6zM1346.2 538.4l5.6 5.6l-5.6 5.6l-5.6 -5.6zM1347.4 625.4l5.6 5.6l-5.6 5.6l-5.6 -5.6zM1347.9 656.2l5.6 5.6l-5.6 5.6l-5.6 -5.6zM1350.3 530.7l5.6 5.6l-5.6 5.6l-5.6 -5.6zM1351.6 560.8l5.6 5.6l-5.6 5.6l-5.6 -5.6zM1352.4 459.6l5.6 5.6l-5.6 5.6l-5.6 -5.6zM1354.5 402.5l5.6 5.6l-5.6 5.6l-5.6 -5.6zM1356.4 436.6l5.6 5.6l-5.6 5.6l-5.6 -5.6zM1357.8 460.4l5.6 5.6l-5.6 5.6l-5.6 -5.6zM1359.1 464.3l5.6 5.6l-5.6 5.6l-5.6 -5.6zM1360.5 593.6l5.6 5.6l-5.6 5.6l-5.6 -5.6zM1362.2 609.5l5.6 5.6l-5.6 5.6l-5.6 -5.6zM1362.8 660.2l5.6 5.6l-5.6 5.6l-5.6 -5.6zM1363.8 685.0l5.6 5.6l-5.6 5.6l-5.6 -5.6zM1365.8 654.3l5.6 5.6l-5.6 5.6l-5.6 -5.6zM1367.4 639.4l5.6 5.6l-5.6 5.6l-5.6 -5.6zM1370.4 682.0l5.6 5.6l-5.6 5.6l-5.6 -5.6zM1371.8 611.1l5.6 5.6l-5.6 5.6l-5.6 -5.6z" fill="#5b9bd5" stroke="none"/>
</svg>
</body></html>
